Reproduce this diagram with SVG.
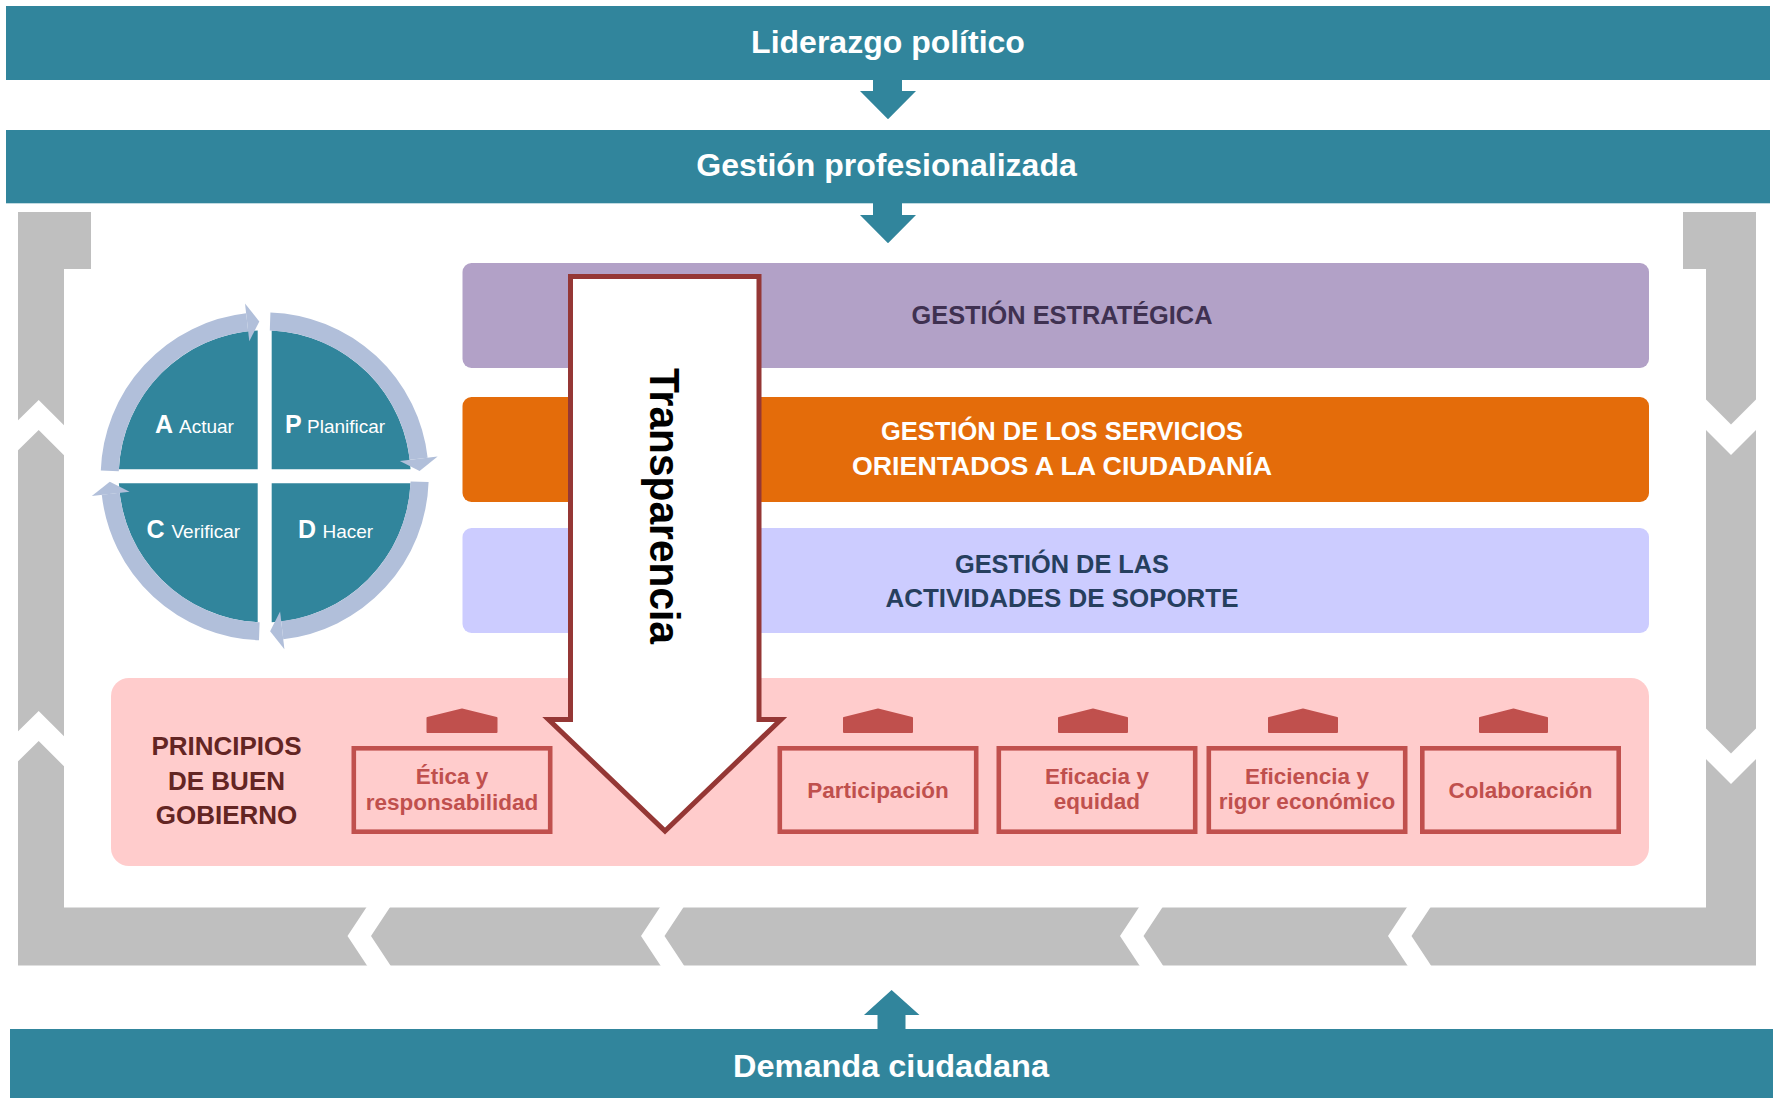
<svg xmlns="http://www.w3.org/2000/svg" xmlns:xlink="http://www.w3.org/1999/xlink" width="1773" height="1098" viewBox="0 0 1773 1098">
<style>
.teal{fill:#31859C}
.gray{fill:#BFBFBF}
.gap{fill:#FFFFFF}
.title{font-family:"Liberation Sans",Arial,sans-serif;font-weight:bold;font-size:32px;fill:#FFFFFF;text-anchor:middle}
.band{font-family:"Liberation Sans",Arial,sans-serif;font-weight:bold;font-size:25.5px;text-anchor:middle}
.pdca{font-family:"Liberation Sans",Arial,sans-serif;font-size:19px;fill:#FFFFFF}
.pdca .big{font-weight:bold;font-size:25px}
.princ{font-family:"Liberation Sans",Arial,sans-serif;font-weight:bold;font-size:26px;fill:#632523;text-anchor:middle}
.ptxt{font-family:"Liberation Sans",Arial,sans-serif;font-weight:bold;font-size:22.5px;fill:#C0504D;text-anchor:middle}
.pbox{fill:none;stroke:#C0504D;stroke-width:4.6}
.house{fill:#C0504D;stroke:#C0504D;stroke-width:2;stroke-linejoin:round}
.ring{fill:none;stroke:#B1BFDA;stroke-width:18}
.ringhead{fill:#B1BFDA}
.quad{fill:#31859C}
</style>
<defs>
<path id="quad" class="quad" d="M -7,-7 V -145.83 A 146 146 0 0 0 -145.83,-7 Z"/>
<g id="arc">
<path class="ring" d="M -154.9,-5.4 A 155 155 0 0 1 -17.55,-154.0"/>
<polygon class="ringhead" points="-15.4,-135.1 -19.7,-172.9 -5.4,-154.9"/>
</g>
</defs>
<rect width="1773" height="1098" fill="#FFFFFF"/>

<g id="cycle-frame">
<path class="gray" d="M18,212 H91 V269 H64 V907.5 H1706 V269 H1683 V212 H1756 V965.5 H18 Z"/>
<polygon class="gap" points="14,424.3 38.7,400 68,429.3 68,459.3 38.7,430 14,454.3"/>
<polygon class="gap" points="14,735.3 38.7,711 68,740.3 68,770.3 38.7,741 14,765.3"/>
<polygon class="gap" points="1702,395.5 1731,424.5 1760,395.5 1760,426 1731,455 1702,426"/>
<polygon class="gap" points="1702,724.6 1731,753.6 1760,724.6 1760,755 1731,784 1702,755"/>
<polygon class="gap" points="369.3,903 347.5,936 369.3,969 392.8,969 371,936 392.8,903"/>
<polygon class="gap" points="662.8,903 641,936 662.8,969 686.3,969 664.5,936 686.3,903"/>
<polygon class="gap" points="1141.8,903 1120,936 1141.8,969 1165.3,969 1143.5,936 1165.3,903"/>
<polygon class="gap" points="1409.8,903 1388,936 1409.8,969 1433.3,969 1411.5,936 1433.3,903"/>
</g>

<g id="liderazgo">
<rect class="teal" x="6" y="6" width="1764" height="74"/>
<text class="title" x="888" y="52.5">Liderazgo político</text>
</g>
<g id="gestion-profesionalizada">
<rect class="teal" x="6" y="130" width="1764" height="73.3"/>
<text class="title" x="886.5" y="176">Gestión profesionalizada</text>
</g>
<g id="demanda">
<rect class="teal" x="10" y="1029" width="1763" height="69"/>
<text class="title" x="891" y="1077" textLength="316" lengthAdjust="spacingAndGlyphs">Demanda ciudadana</text>
</g>

<g id="connectors">
<polygon class="teal" points="873,79 902,79 902,91 916,91 888,119.3 860,91 873,91"/>
<polygon class="teal" points="873,203 902,203 902,215 916,215 888,243.3 860,215 873,215"/>
<polygon class="teal" points="877.5,1030 905.5,1030 905.5,1015 919.5,1015 891.6,990 864,1015 877.5,1015"/>
</g>

<g id="gestion-estrategica">
<rect x="462.5" y="263" width="1186.5" height="105" rx="9" fill="#B2A1C7"/>
<text class="band" x="1062" y="324.3" fill="#3F3151" textLength="301" lengthAdjust="spacingAndGlyphs">GESTIÓN ESTRATÉGICA</text>
</g>
<g id="gestion-servicios">
<rect x="462.5" y="397" width="1186.5" height="105" rx="9" fill="#E46C0A"/>
<text class="band" fill="#FFFFFF"><tspan x="1062" y="440" textLength="362" lengthAdjust="spacingAndGlyphs">GESTIÓN DE LOS SERVICIOS</tspan><tspan x="1062" y="475" textLength="420" lengthAdjust="spacingAndGlyphs">ORIENTADOS A LA CIUDADANÍA</tspan></text>
</g>
<g id="gestion-soporte">
<rect x="462.5" y="528" width="1186.5" height="105" rx="9" fill="#CCCCFF"/>
<text class="band" fill="#263F5E"><tspan x="1062" y="573" textLength="214" lengthAdjust="spacingAndGlyphs">GESTIÓN DE LAS</tspan><tspan x="1062" y="607" textLength="353" lengthAdjust="spacingAndGlyphs">ACTIVIDADES DE SOPORTE</tspan></text>
</g>

<g id="principios">
<rect x="111" y="678" width="1538" height="188" rx="18" fill="#FFCCCC"/>
<text class="princ"><tspan x="226.5" y="755">PRINCIPIOS</tspan><tspan x="226.5" y="790">DE BUEN</tspan><tspan x="226.5" y="824">GOBIERNO</tspan></text>
</g>

<g id="pdca">
<g transform="translate(264.7,476.3)">
<use xlink:href="#quad"/>
<use xlink:href="#quad" transform="rotate(90)"/>
<use xlink:href="#quad" transform="rotate(180)"/>
<use xlink:href="#quad" transform="rotate(270)"/>
<use xlink:href="#arc"/>
<use xlink:href="#arc" transform="rotate(90)"/>
<use xlink:href="#arc" transform="rotate(180)"/>
<use xlink:href="#arc" transform="rotate(270)"/>
</g>
<text class="pdca" y="433"><tspan class="big" x="155">A</tspan><tspan x="179">Actuar</tspan></text>
<text class="pdca" y="433"><tspan class="big" x="285">P</tspan><tspan x="307">Planificar</tspan></text>
<text class="pdca" y="537.5"><tspan class="big" x="146.5">C</tspan><tspan x="171.5">Verificar</tspan></text>
<text class="pdca" y="537.5"><tspan class="big" x="298">D</tspan><tspan x="322.5">Hacer</tspan></text>
</g>

<g id="transparencia">
<polygon points="570.5,276.5 759,276.5 759,719.5 781,719.5 665,831 548.5,719.5 570.5,719.5" fill="#FFFFFF" stroke="#953735" stroke-width="5" stroke-linejoin="miter"/>
<text transform="translate(650,506) rotate(90)" x="0" y="0" font-family="Liberation Sans, Arial, sans-serif" font-weight="bold" font-size="42" fill="#000000" text-anchor="middle" textLength="276" lengthAdjust="spacingAndGlyphs">Transparencia</text>
</g>

<g id="etica">
<polygon class="house" points="427.5,732 427.5,718 462,709.5 496.5,718 496.5,732"/>
<rect class="pbox" x="353.8" y="748.3" width="196.4" height="83.4"/>
<text class="ptxt"><tspan x="452" y="784">Ética y</tspan><tspan x="452" y="810">responsabilidad</tspan></text>
</g>
<g id="participacion">
<polygon class="house" points="844,732 844,718 878,709.5 912,718 912,732"/>
<rect class="pbox" x="779.8" y="748.3" width="196.4" height="83.4"/>
<text class="ptxt" x="878" y="798">Participación</text>
</g>
<g id="eficacia">
<polygon class="house" points="1059,732 1059,718 1093,709.5 1127,718 1127,732"/>
<rect class="pbox" x="998.8" y="748.3" width="196.4" height="83.4"/>
<text class="ptxt"><tspan x="1097" y="784">Eficacia y</tspan><tspan x="1097" y="809">equidad</tspan></text>
</g>
<g id="eficiencia">
<polygon class="house" points="1269,732 1269,718 1303,709.5 1337,718 1337,732"/>
<rect class="pbox" x="1208.8" y="748.3" width="196.4" height="83.4"/>
<text class="ptxt"><tspan x="1307" y="784">Eficiencia y</tspan><tspan x="1307" y="809">rigor económico</tspan></text>
</g>
<g id="colaboracion">
<polygon class="house" points="1480,732 1480,718 1513.5,709.5 1547,718 1547,732"/>
<rect class="pbox" x="1422.3" y="748.3" width="196.4" height="83.4"/>
<text class="ptxt" x="1520.5" y="798">Colaboración</text>
</g>
</svg>
